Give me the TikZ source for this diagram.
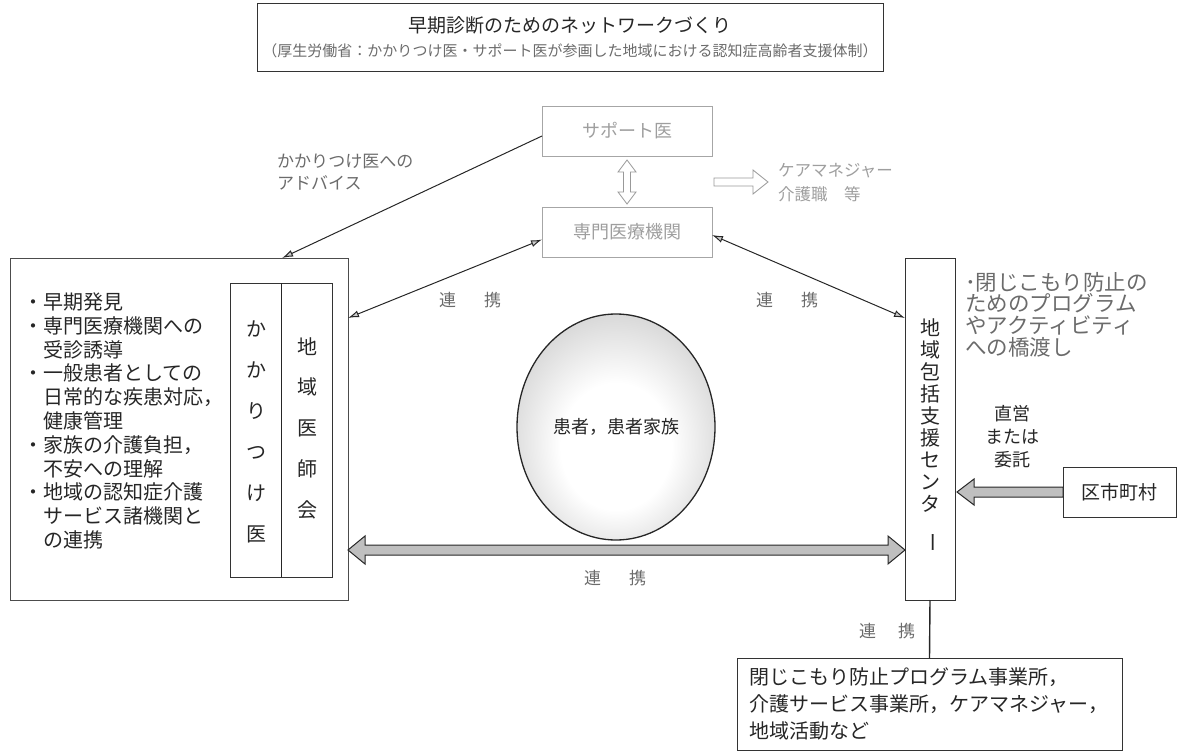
\documentclass[tikz,border=0pt]{standalone}
\usepackage{fontspec}
\newfontfamily\jp{Noto Sans CJK JP}
\usetikzlibrary{shapes.geometric,arrows.meta,calc}
\pgfdeclareradialshading{ballish}{\pgfpoint{0bp}{-6bp}}{color(0bp)=(white); color(14bp)=(white); color(34bp)=(black!22); color(50bp)=(black!42)}
\tikzset{
  fs/.style={font=\jp\fontsize{#1}{#1}\selectfont},
  fsl/.style 2 args={font=\jp\fontsize{#1}{#2}\selectfont},
  box/.style={draw=black!80, line width=1pt, rectangle, inner sep=0pt, outer sep=0pt},
  faintbox/.style={box, draw=black!35},
  ink/.style={text=black!85},
  mid/.style={text=black!58},
  faint/.style={text=black!38},
  conn/.style={draw=black!85, line width=1pt},
  hd/.tip={Latex[length=11pt,width=7pt,fill=black!20]},
  fat/.style={draw=black!85, line width=1pt, fill=black!25},
  hollow/.style={draw=black!40, line width=0.8pt, fill=white},
}
\begin{document}
\begin{tikzpicture}[x=1pt,y=-1pt]
\useasboundingbox (0,0) rectangle (1181,752);

% title
\node[box, minimum width=626, minimum height=68] (tbox) at (570,38) {};
\node[fs=19, ink] (title) at (570,25) {早期診断のためのネットワークづくり};
\node[fs=15, mid] (subt) at (570,51) {（厚生労働省：かかりつけ医・サポート医が参画した地域における認知症高齢者支援体制）};

% support doctor / specialist
\node[faintbox, minimum width=170, minimum height=50, fs=18, faint] (sup) at (627,131) {サポート医};
\node[faintbox, minimum width=170, minimum height=50, fs=18, faint] (sen) at (627,232) {専門医療機関};

% vertical hollow double arrow
\coordinate (va1) at ($(sup.south)+(0,4)$);
\coordinate (va2) at ($(sen.north)+(0,-3)$);
\path[hollow] (va1) -- ($(va1)+(-9,12)$) -- ($(va1)+(-3.5,12)$) -- ($(va2)+(-3.5,-12)$) -- ($(va2)+(-9,-12)$) -- (va2)
  -- ($(va2)+(9,-12)$) -- ($(va2)+(3.5,-12)$) -- ($(va1)+(3.5,12)$) -- ($(va1)+(9,12)$) -- cycle;

% hollow right arrow and care text
\coordinate (h1) at ($(sen.north east)+(2,-25)$);
\coordinate (h2) at ($(h1)+(54,0)$);
\path[hollow] ($(h1)+(0,-4)$) -- ($(h2)+(-15,-4)$) -- ($(h2)+(-15,-12)$) -- (h2) -- ($(h2)+(-15,12)$) -- ($(h2)+(-15,4)$) -- ($(h1)+(0,4)$) -- cycle;
\node[fsl={16.5}{24}, align=left, anchor=west, faint, inner sep=0] (care) at (778,183) {ケアマネジャー\\介護職　等};

% left block
\node[box, draw=black!70, minimum width=338, minimum height=342] (lbox) at (179,429) {};
\node[box, minimum width=102, minimum height=294] (inner) at (281,430) {};
\draw[conn] (inner.north) -- (inner.south);
\node[fsl={20}{41}, align=center, ink] (kakari) at (256,432) {か\\か\\り\\つ\\け\\医};
\node[fsl={20}{40.75}, align=center, ink] (ishikai) at (307,428) {地\\域\\医\\師\\会};
\node[fsl={20}{23.8}, align=left, anchor=west, ink, inner sep=0] (roles) at (23,421)
 {・早期発見\\・専門医療機関への\\　受診誘導\\・一般患者としての\\　日常的な疾患対応，\\　健康管理\\・家族の介護負担，\\　不安への理解\\・地域の認知症介護\\　サービス諸機関と\\　の連携};

% advice arrow
\draw[conn, -hd] ($(sup.south west)!0.4!(sup.north west)$) -- ($(lbox.north west)!0.805!(lbox.north east)$);
\node[fsl={17}{22}, align=left, anchor=west, mid, inner sep=0] (adv) at (277,172) {かかりつけ医への\\アドバイス};

% right block
\node[box, minimum width=50, minimum height=342] (rbox) at (930,429) {};
\node[fsl={20}{21.9}, align=center, ink] (hokatsu) at (930,436) {地\\域\\包\\括\\支\\援\\セ\\ン\\タ\\\rotatebox{-90}{ー}};
\node[fsl={21.5}{21.7}, align=left, anchor=west, mid, inner sep=0] (bridge) at (965,314.5) {･閉じこもり防止の\\ためのプログラム\\やアクティビティ\\への橋渡し};
\node[fsl={18}{23}, align=center, ink] (choku) at (1012,437) {直営\\または\\委託};
\node[box, minimum width=113, minimum height=50, fs=19, ink] (ku) at (1119.5,492) {区市町村};
\coordinate (k1) at (ku.west);
\coordinate (k2) at ($(rbox.north east)+(2,234)$);
\path[fat] (k2) -- ($(k2)+(17,-13)$) -- ($(k2)+(17,-5)$) -- ($(k1)+(0,-5)$) -- ($(k1)+(0,5)$) -- ($(k2)+(17,5)$) -- ($(k2)+(17,13)$) -- cycle;

% links to specialist
\draw[conn, hd-hd] ($(sen.south west)!0.35!(sen.north west)$) -- ($(lbox.north east)+(0,60)$);
\draw[conn, hd-hd] ($(sen.south east)!0.44!(sen.north east)$) -- ($(rbox.north west)+(0,60)$);
\node[fs=17, mid] (lk1) at (470,300) {連\hspace{28pt}携};
\node[fs=17, mid] (lk2) at (787,300) {連\hspace{28pt}携};

% patient circle
\node[ellipse, draw=black!85, line width=1.3pt, shade, shading=ballish, minimum width=198, minimum height=226, inner sep=0, fs=18, ink] (pt) at (616,427) {患者，患者家族};

% big double arrow
\coordinate (b1) at ($(lbox.north east)+(0,292)$);
\coordinate (b2) at ($(rbox.north west)+(0,292)$);
\path[fat] (b1) -- ($(b1)+(17,-14)$) -- ($(b1)+(17,-5)$) -- ($(b2)+(-17,-5)$) -- ($(b2)+(-17,-14)$) -- (b2)
  -- ($(b2)+(-17,14)$) -- ($(b2)+(-17,5)$) -- ($(b1)+(17,5)$) -- ($(b1)+(17,14)$) -- cycle;
\node[fs=17, mid] (lk3) at (615,578) {連\hspace{28pt}携};

% bottom box
\node[box, minimum width=385, minimum height=92] (bot) at (929.5,704) {};
\node[fsl={20}{27}, align=left, anchor=west, ink, inner sep=0] (bottxt) at (749,704) {閉じこもり防止プログラム事業所，\\介護サービス事業所，ケアマネジャー，\\地域活動など};
\draw[conn, line width=1.4pt] (rbox.south) -- (bot.north);
\node[fs=17, mid] (lk4) at (887,631) {連\hspace{22pt}携};
\end{tikzpicture}
\end{document}
